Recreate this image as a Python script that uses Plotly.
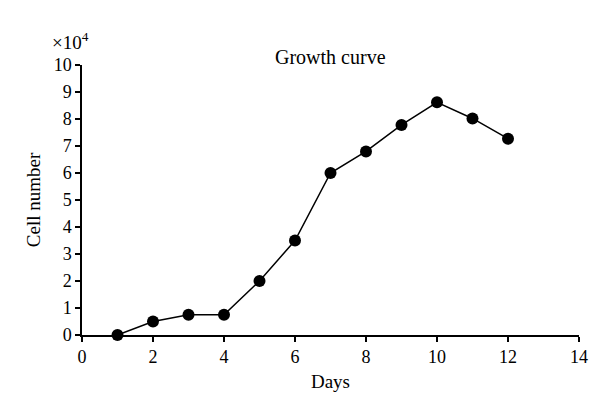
import plotly.graph_objects as go

days = [1, 2, 3, 4, 5, 6, 7, 8, 9, 10, 11, 12]
cells = [0, 0.5, 0.75, 0.75, 2.0, 3.5, 6.0, 6.8, 7.78, 8.62, 8.02, 7.27]
x_ticks = [0, 2, 4, 6, 8, 10, 12, 14]
y_ticks = list(range(0, 11))

FAM = "Liberation Serif, Times New Roman, serif"

fig = go.Figure()
fig.add_trace(go.Scatter(
    x=days, y=cells, mode="lines+markers",
    line=dict(color="black", width=1.5),
    marker=dict(color="black", size=12),
    cliponaxis=False, showlegend=False,
))

axis_common = dict(showgrid=False, zeroline=False, showline=True, linecolor="black",
                   linewidth=1.5, ticks="outside", ticklen=5, tickwidth=1.5,
                   tickcolor="black", automargin=False,
                   tickfont=dict(family=FAM, size=18, color="black"))

fig.update_layout(
    width=600, height=409,
    margin=dict(l=74, r=29, t=57, b=82),
    paper_bgcolor="white", plot_bgcolor="white",
    font=dict(family=FAM, size=18, color="black"),
    xaxis=dict(range=[0, 14], tickvals=x_ticks,
               title=dict(text="Days", standoff=8,
                          font=dict(family=FAM, size=19, color="black")),
               **axis_common),
    yaxis=dict(range=[0, 10], tickvals=y_ticks,
               title=dict(text="Cell number", standoff=8,
                          font=dict(family=FAM, size=19, color="black")),
               **axis_common),
    annotations=[
        dict(text="Growth curve", x=0.5, xref="paper", y=1.03, yref="paper",
             xanchor="center", yanchor="middle", showarrow=False,
             font=dict(family=FAM, size=20, color="black")),
        dict(text="×10<sup>4</sup>", x=-0.024, xref="paper", y=1.089, yref="paper",
             xanchor="center", yanchor="middle", showarrow=False,
             font=dict(family=FAM, size=19, color="black")),
    ],
)

fig.write_html("out.html")
